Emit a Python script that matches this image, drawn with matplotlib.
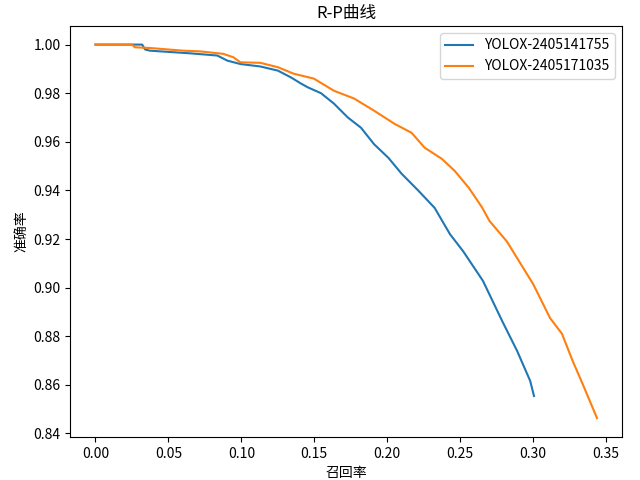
import matplotlib
matplotlib.use("Agg")
import matplotlib.pyplot as plt

plt.rcParams["font.family"] = ["Noto Sans CJK SC", "DejaVu Sans"]
plt.rcParams["axes.unicode_minus"] = False

# 读取自图中的 R-P 曲线数据
recall_a = [0, 0.032, 0.034, 0.0373, 0.065, 0.0835, 0.0904, 0.0994, 0.113,
            0.125, 0.134, 0.1408, 0.1456, 0.1546, 0.1635, 0.173, 0.182, 0.191,
            0.2008, 0.2098, 0.2215, 0.2325, 0.243, 0.252, 0.2656, 0.279, 0.289,
            0.298, 0.3006]
precision_a = [1.0, 1.0, 0.998, 0.9975, 0.9964, 0.9955, 0.9934, 0.992, 0.991,
               0.9893, 0.9865, 0.984, 0.9824, 0.980, 0.9757, 0.970, 0.9658,
               0.959, 0.9534, 0.9469, 0.9398, 0.9328, 0.922, 0.915, 0.9028,
               0.886, 0.874, 0.8616, 0.8554]

recall_b = [0, 0.025, 0.027, 0.0373, 0.06, 0.0718, 0.0876, 0.0945, 0.0994,
            0.113, 0.125, 0.136, 0.1497, 0.1635, 0.1773, 0.191, 0.205, 0.2167,
            0.2256, 0.2374, 0.2463, 0.256, 0.265, 0.270, 0.282, 0.300, 0.3116,
            0.3198, 0.327, 0.334, 0.3438]
precision_b = [1.0, 1.0, 0.9989, 0.9986, 0.9975, 0.9972, 0.9962, 0.9948, 0.9927,
               0.9925, 0.9907, 0.988, 0.986, 0.981, 0.9778, 0.9728, 0.9674,
               0.9637, 0.9576, 0.953, 0.948, 0.941, 0.933, 0.9275, 0.919,
               0.9015, 0.8875, 0.881, 0.870, 0.8603, 0.8463]

labels = ["YOLOX-2405141755", "YOLOX-2405171035"]

fig, ax = plt.subplots(figsize=(6.4, 4.8), dpi=100)
ax.plot(recall_a, precision_a, label=labels[0])
ax.plot(recall_b, precision_b, label=labels[1])
ax.set_title("R-P曲线")
ax.set_xlabel("召回率")
ax.set_ylabel("准确率")
ax.legend(loc="upper right")
plt.subplots_adjust(left=0.11, right=0.972, top=0.946, bottom=0.09)
plt.savefig("out.png", dpi=100)
